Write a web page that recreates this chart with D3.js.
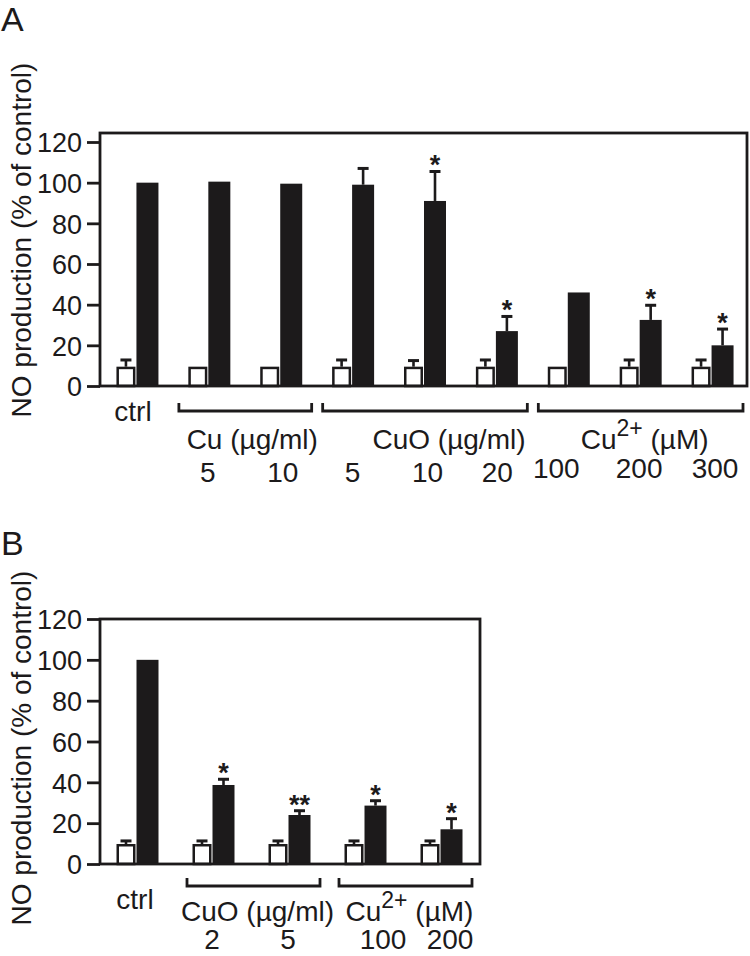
<!DOCTYPE html>
<html>
<head>
<meta charset="utf-8">
<script src="https://cdn.jsdelivr.net/npm/d3@7"></script>
<style>
  html, body { margin: 0; padding: 0; background: #fff; }
  svg { display: block; }
  text { font-family: "Liberation Sans", Arial, Helvetica, sans-serif; fill: #1c1a1b; }
</style>
</head>
<body>
<svg id="chart" width="750" height="956"></svg>
<script>
// ---------------- DATA ----------------
const yTicks = [0, 20, 40, 60, 80, 100, 120];
const yTitle = "NO production (% of control)";

// Panel A
const groupsA   = ["ctrl", "Cu 5", "Cu 10", "CuO 5", "CuO 10", "CuO 20", "Cu2+ 100", "Cu2+ 200", "Cu2+ 300"];
const whiteA    = [9.5, 9.5, 9.5, 9.5, 9.5, 9.5, 9.5, 9.5, 9.5];
const whiteErrA = [3.3, 0, 0, 3.3, 3.0, 3.3, 0, 3.3, 3.3];
const blackA    = [100, 100.5, 99.5, 99, 91, 27, 46, 32.5, 20];
const blackErrA = [0, 0, 0, 8, 14.5, 7.2, 0, 7.2, 8];
const sigA      = ["", "", "", "", "*", "*", "", "*", "*"];
const doseA     = ["", "5", "10", "5", "10", "20", "100", "200", "300"];
const bracketLabelsA = ["Cu (µg/ml)", "CuO (µg/ml)", "Cu2+ (µM)"];
const bracketSpansA  = [[1, 2], [3, 5], [6, 8]];

// Panel B
const groupsB   = ["ctrl", "CuO 2", "CuO 5", "Cu2+ 100", "Cu2+ 200"];
const whiteB    = [9.8, 9.8, 9.8, 9.8, 9.8];
const whiteErrB = [1.5, 1.5, 1.5, 1.5, 1.5];
const blackB    = [100, 38.7, 24, 28.6, 17];
const blackErrB = [0, 2.8, 2.1, 2.4, 5.2];
const sigB      = ["", "*", "**", "*", "*"];
const doseB     = ["", "2", "5", "100", "200"];
const bracketLabelsB = ["CuO (µg/ml)", "Cu2+ (µM)"];
const bracketSpansB  = [[1, 2], [3, 4]];

// ---------------- LAYOUT ----------------
const INK = "#1c1a1b";
const svg = d3.select("#chart");

const panels = [
  {
    letter: "A", letterY: 31,
    groups: groupsA, white: whiteA, whiteErr: whiteErrA, black: blackA, blackErr: blackErrA,
    sig: sigA, dose: doseA, bLabels: bracketLabelsA, bSpans: bracketSpansA,
    left: 100, right: 747, top: 133, y0: 386, y120: 142,
    pairShift: 0, bracketIn: [7, 4], bracketY: 411,
    bLabelDx: [7, 24, 4], bLabelY: 449,
    doseDx: [0, 0, 3, 1, 4, 2, -11, 0, 4], doseY: [482, 482, 482, 482, 482, 482, 478, 478, 478],
    ctrlX: 133, ctrlY: 421, titleCenter: 240
  },
  {
    letter: "B", letterY: 555,
    groups: groupsB, white: whiteB, whiteErr: whiteErrB, black: blackB, blackErr: blackErrB,
    sig: sigB, dose: doseB, bLabels: bracketLabelsB, bSpans: bracketSpansB,
    left: 100, right: 480, top: 619, y0: 864, y120: 619,
    pairShift: -2, bracketIn: [11, 8], bracketY: 886,
    bLabelDx: [4, 4], bLabelY: 921,
    doseDx: [0, -2, -2, 17, 8], doseY: [949, 949, 949, 949, 949],
    ctrlX: 135, ctrlY: 909, titleCenter: 748
  }
];

function drawPanel(p) {
  const g = svg.append("g");
  const x = d3.scaleBand().domain(p.groups).range([p.left, p.right]).padding(0);
  const y = d3.scaleLinear().domain([0, 120]).range([p.y0, p.y120]);
  const center = d => x(d) + x.bandwidth() / 2;

  // panel letter
  g.append("text").attr("x", 1).attr("y", p.letterY)
    .style("font-size", "34px").text(p.letter);

  // y title
  g.append("text")
    .attr("transform", `translate(31,${p.titleCenter}) rotate(-90)`)
    .attr("text-anchor", "middle")
    .style("font-size", "28px")
    .text(yTitle);

  const rows = p.groups.map((k, i) => ({
    k, w: p.white[i], we: p.whiteErr[i], b: p.black[i], be: p.blackErr[i], s: p.sig[i]
  }));

  const wx = d => center(d.k) - 19.5 + p.pairShift;   // white bar outer-left
  const bx = d => center(d.k) + 0.5 + p.pairShift;    // black bar left
  const WW = 19, BW = 22;

  // black bars
  g.selectAll(".bb").data(rows).enter().append("rect")
    .attr("x", d => bx(d)).attr("width", BW)
    .attr("y", d => y(d.b)).attr("height", d => y(0) - y(d.b))
    .attr("fill", INK);

  // white bars
  g.selectAll(".wb").data(rows).enter().append("rect")
    .attr("x", d => wx(d) + 1.25).attr("width", WW - 2.5)
    .attr("y", d => y(d.w) + 1.25).attr("height", d => y(0) - y(d.w) - 1.25)
    .attr("fill", "#fff").attr("stroke", INK).attr("stroke-width", 2.5);

  // error bars
  function errBars(cls, cxf, val, err) {
    const e = rows.filter(d => d[err] > 0);
    g.selectAll("." + cls + "v").data(e).enter().append("line")
      .attr("x1", cxf).attr("x2", cxf)
      .attr("y1", d => y(d[val])).attr("y2", d => y(d[val] + d[err]))
      .attr("stroke", INK).attr("stroke-width", 2.6);
    g.selectAll("." + cls + "c").data(e).enter().append("line")
      .attr("x1", d => cxf(d) - 5.5).attr("x2", d => cxf(d) + 5.5)
      .attr("y1", d => y(d[val] + d[err])).attr("y2", d => y(d[val] + d[err]))
      .attr("stroke", INK).attr("stroke-width", 3);
  }
  errBars("we", d => wx(d) + WW / 2, "w", "we");
  errBars("be", d => bx(d) + BW / 2, "b", "be");

  // significance stars
  g.selectAll(".sig").data(rows.filter(d => d.s)).enter().append("text")
    .attr("x", d => bx(d) + BW / 2)
    .attr("y", d => y(d.b + d.be) + 3)
    .attr("text-anchor", "middle")
    .style("font-size", "27px").style("font-weight", "bold")
    .text(d => d.s);

  // frame
  g.append("rect")
    .attr("x", p.left).attr("y", p.top)
    .attr("width", p.right - p.left).attr("height", p.y0 - p.top)
    .attr("fill", "none").attr("stroke", INK).attr("stroke-width", 2.8);

  // y axis
  const ax = g.append("g").attr("transform", `translate(${p.left},0)`)
    .call(d3.axisLeft(y).tickValues(yTicks).tickSize(13).tickPadding(5).tickFormat(d3.format("d")));
  ax.select(".domain").remove();
  ax.selectAll(".tick line").attr("stroke", INK).attr("stroke-width", 2.8);
  ax.selectAll(".tick text").attr("fill", INK)
    .style("font-size", "27px")
    .style("font-family", '"Liberation Sans", Arial, sans-serif')
    .attr("dy", "0.36em");

  // ctrl label
  g.append("text").attr("x", p.ctrlX).attr("y", p.ctrlY)
    .attr("text-anchor", "middle").style("font-size", "28px").text(p.groups[0]);

  // brackets
  p.bSpans.forEach((sp, i) => {
    const x1 = x(p.groups[sp[0]]) + p.bracketIn[0];
    const x2 = x(p.groups[sp[1]]) + x.bandwidth() - p.bracketIn[1];
    g.append("path")
      .attr("d", `M${x1},${p.bracketY - 8}V${p.bracketY}H${x2}V${p.bracketY - 8}`)
      .attr("fill", "none").attr("stroke", INK).attr("stroke-width", 2.8);

    const lab = p.bLabels[i];
    const t = g.append("text")
      .attr("x", (x1 + x2) / 2 + p.bLabelDx[i]).attr("y", p.bLabelY)
      .attr("text-anchor", "middle").style("font-size", "28px");
    const m = lab.match(/^(Cu)(2\+)(.*)$/);
    if (m) {
      t.append("tspan").text(m[1]);
      t.append("tspan").attr("dy", -13).style("font-size", "23px").text(m[2]);
      t.append("tspan").attr("dy", 13).text(m[3]);
    } else {
      t.text(lab);
    }
  });

  // dose labels
  g.selectAll(".dose").data(p.groups.map((k, i) => ({ k, i, t: p.dose[i] })).filter(d => d.t)).enter()
    .append("text")
    .attr("x", d => center(d.k) + p.doseDx[d.i])
    .attr("y", d => p.doseY[d.i])
    .attr("text-anchor", "middle").style("font-size", "28px")
    .text(d => d.t);
}

panels.forEach(drawPanel);
</script>
</body>
</html>
